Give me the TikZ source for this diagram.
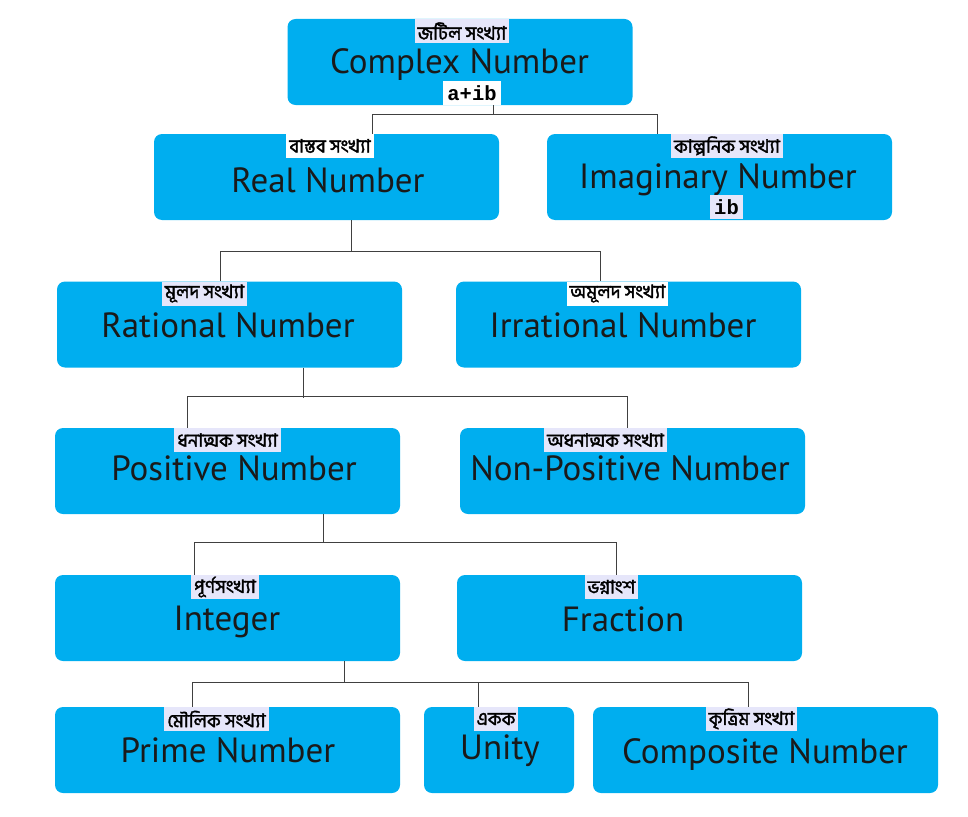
\documentclass[tikz,border=0pt]{standalone}
\usepackage{fontspec}
\setmainfont{PT Sans}
\newfontfamily\bn[Script=Bengali, AutoFakeBold=2]{Hind Siliguri}
\newfontfamily\monob{Liberation Mono}
\definecolor{boxblue}{HTML}{00AEEF}
\definecolor{lav}{HTML}{E6E6FA}
\definecolor{ink}{HTML}{1A1A1A}
\definecolor{linec}{HTML}{404040}
\begin{document}
\begin{tikzpicture}[x=1pt,y=-1pt,
  box/.style={fill=boxblue, rounded corners=8pt, minimum width=345pt, minimum height=86pt, inner sep=0pt},
  maintext/.style={font=\fontsize{35}{35}\selectfont, text=ink, inner sep=0pt, anchor=base},
  bnl/.style={font=\bn\bfseries\fontsize{18.5}{18.5}\selectfont, fill=lav, inner xsep=3pt, inner ysep=0pt, minimum height=24pt, anchor=north, text=black},
  bnw/.style={bnl, fill=white},
  mono/.style={font=\monob\bfseries\fontsize{20.5}{20.5}\selectfont, inner xsep=4pt, inner ysep=0pt, minimum height=24pt, anchor=south, text=black},
  conn/.style={draw=linec, line width=1pt}]
\useasboundingbox (0,0) rectangle (968,816);
% boxes
\node[box] (complex) at (460,62) {};
\node[box] (real) at (326.5,177) {};
\node[box] (imag) at (719.5,177) {};
\node[box] (rational) at (229.5,324.5) {};
\node[box] (irrational) at (628.5,324.5) {};
\node[box] (positive) at (227.5,471) {};
\node[box] (nonpos) at (632.5,471) {};
\node[box] (integer) at (227.5,618) {};
\node[box] (fraction) at (629.5,618) {};
\node[box] (prime) at (227.5,750) {};
\node[box, minimum width=150pt] (unity) at (499,750) {};
\node[box] (composite) at (765.5,750) {};
% main texts
\node[maintext] (tcomplex) at (459.5,74) {Complex Number};
\node[maintext] (treal) at (328,192) {Real Number};
\node[maintext] (timag) at (718,188) {Imaginary Number};
\node[maintext] (trational) at (228,337) {Rational Number};
\node[maintext] (tirrational) at (623,337) {Irrational Number};
\node[maintext] (tpositive) at (234,480) {Positive Number};
\node[maintext] (tnonpos) at (630,480) {Non-Positive Number};
\node[maintext] (tinteger) at (227,630) {Integer};
\node[maintext] (tfraction) at (623,631) {Fraction};
\node[maintext] (tprime) at (228,762) {Prime Number};
\node[maintext] (tunity) at (500,759) {Unity};
\node[maintext] (tcomposite) at (765,763) {Composite Number};
% bengali labels
\node[bnl] (lcomplex) at ([xshift=2pt]complex.north) {জটিল সংখ্যা};
\node[bnw] (lreal) at ([xshift=3.5pt]real.north) {বাস্তব সংখ্যা};
\node[bnl] (limag) at ([xshift=7.5pt]imag.north) {কাল্পনিক সংখ্যা};
\node[bnl] (lrational) at ([xshift=-25pt]rational.north) {মূলদ সংখ্যা};
\node[bnw] (lirrational) at ([xshift=-11pt]irrational.north) {অমূলদ সংখ্যা};
\node[bnl] (lpositive) at ([xshift=0pt]positive.north) {ধনাত্মক সংখ্যা};
\node[bnl] (lnonpos) at ([xshift=-27pt]nonpos.north) {অধনাত্মক সংখ্যা};
\node[bnl] (linteger) at ([xshift=-2.5pt]integer.north) {পূর্ণসংখ্যা};
\node[bnl] (lfraction) at ([xshift=-18pt]fraction.north) {ভগ্নাংশ};
\node[bnl] (lprime) at ([xshift=-11pt]prime.north) {মৌলিক সংখ্যা};
\node[bnl] (lunity) at ([xshift=-3pt]unity.north) {একক};
\node[bnl] (lcomposite) at ([xshift=-14pt]composite.north) {কৃত্রিম সংখ্যা};
% formulas
\node[mono, fill=white] (fcomplex) at ([xshift=12pt]complex.south) {a+ib};
\node[mono, fill=lav] (fimag) at ([xshift=7pt,yshift=1pt]imag.south) {ib};
% connectors
\draw[conn] ([xshift=33pt]complex.south) -- ++(0,10);
\draw[conn] ([xshift=45.5pt]real.north) -- ++(0,-19) -| ([xshift=-62.5pt]imag.north);
\draw[conn] ([xshift=24.5pt]real.south) -- ++(0,32);
\draw[conn] ([xshift=-9.5pt]rational.north) -- ++(0,-30) -| ([xshift=-28.5pt]irrational.north);
\draw[conn] ([xshift=73.5pt]rational.south) -- ++(0,30);
\draw[conn] ([xshift=-40.5pt]positive.north) -- ++(0,-31) -| ([xshift=-5.5pt]nonpos.north);
\draw[conn] ([xshift=95.5pt]positive.south) -- ++(0,29);
\draw[conn] ([xshift=-33.5pt]integer.north) -- ++(0,-32) -| ([xshift=-13.5pt]fraction.north);
\draw[conn] ([xshift=116.5pt]integer.south) -- ++(0,22);
\draw[conn] ([xshift=-35.5pt]prime.north) -- ++(0,-24) -| ([xshift=-17.5pt]composite.north);
\draw[conn] ([xshift=-21pt]unity.north) -- ++(0,-24);
\end{tikzpicture}
\end{document}
